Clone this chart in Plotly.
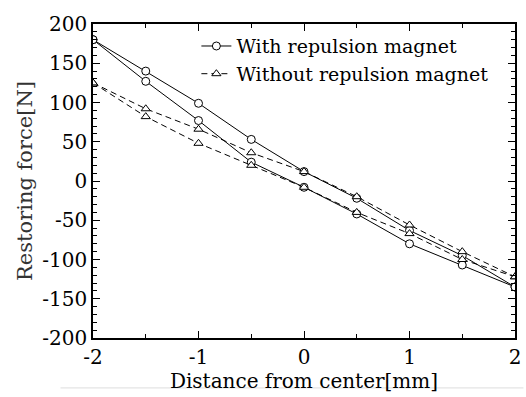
import plotly.graph_objects as go

x_vals = [-2, -1.5, -1, -0.5, 0, 0.5, 1, 1.5, 2]
with_upper = [180, 140, 99, 53, 12, -22, -63, -95, -135]
with_lower = [180, 127, 77, 24, -8, -42, -80, -107, -135]
without_upper = [125, 92, 66, 36, 12, -20, -56, -90, -122]
without_lower = [125, 82, 48, 20, -8, -40, -67, -100, -122]

x_ticks = [-2, -1, 0, 1, 2]
y_ticks = [-200, -150, -100, -50, 0, 50, 100, 150, 200]

FONT = "DejaVu Serif"

fig = go.Figure()

def add(y, name, dash, symbol, show):
    fig.add_trace(go.Scatter(
        x=x_vals, y=y, mode="lines+markers", name=name,
        legendgroup=name, showlegend=show,
        line=dict(color="black", width=1, dash=dash),
        marker=dict(symbol=symbol, size=8, color="white",
                    line=dict(color="black", width=1)),
    ))

add(with_upper, "With repulsion magnet", "solid", "circle", True)
add(with_lower, "With repulsion magnet", "solid", "circle", False)
add(without_upper, "Without repulsion magnet", "6px,4px", "triangle-up", True)
add(without_lower, "Without repulsion magnet", "6px,4px", "triangle-up", False)

axis_common = dict(
    showgrid=False, zeroline=False, showline=True, linecolor="black",
    linewidth=1.5, mirror="ticks", ticks="inside", tickcolor="black",
    ticklen=7, tickfont=dict(family=FONT, size=20, color="black"),
)

fig.update_xaxes(
    range=[-2, 2], tickvals=x_ticks, ticktext=[str(v) for v in x_ticks],
    minor=dict(ticks="inside", dtick=0.5, ticklen=4, tickcolor="black"),
    title=dict(text="Distance from center[mm]", standoff=4,
               font=dict(family=FONT, size=20, color="black")),
    **axis_common,
)
fig.update_yaxes(
    range=[-200, 200], tickvals=y_ticks, ticktext=[str(v) for v in y_ticks],
    minor=dict(ticks="inside", dtick=10, ticklen=4, tickcolor="black"),
    title=dict(text="Restoring force[N]", standoff=4,
               font=dict(family=FONT, size=21, color="#333")),
    **axis_common,
)

fig.add_shape(type="line", xref="paper", yref="paper", x0=-0.077, x1=1.02,
              y0=-0.159, y1=-0.159, line=dict(color="#dddddd", width=1),
              layer="below")

fig.update_layout(
    width=526, height=397,
    margin=dict(l=93, r=5, t=24, b=59),
    paper_bgcolor="white", plot_bgcolor="white",
    font=dict(family=FONT, color="black"),
    legend=dict(x=0.245, y=0.99, xanchor="left", yanchor="top",
                bgcolor="rgba(0,0,0,0)", borderwidth=0,
                font=dict(family=FONT, size=19, color="black"),
                tracegroupgap=0, itemwidth=30),
    showlegend=True,
)

fig.write_html("out.html")
